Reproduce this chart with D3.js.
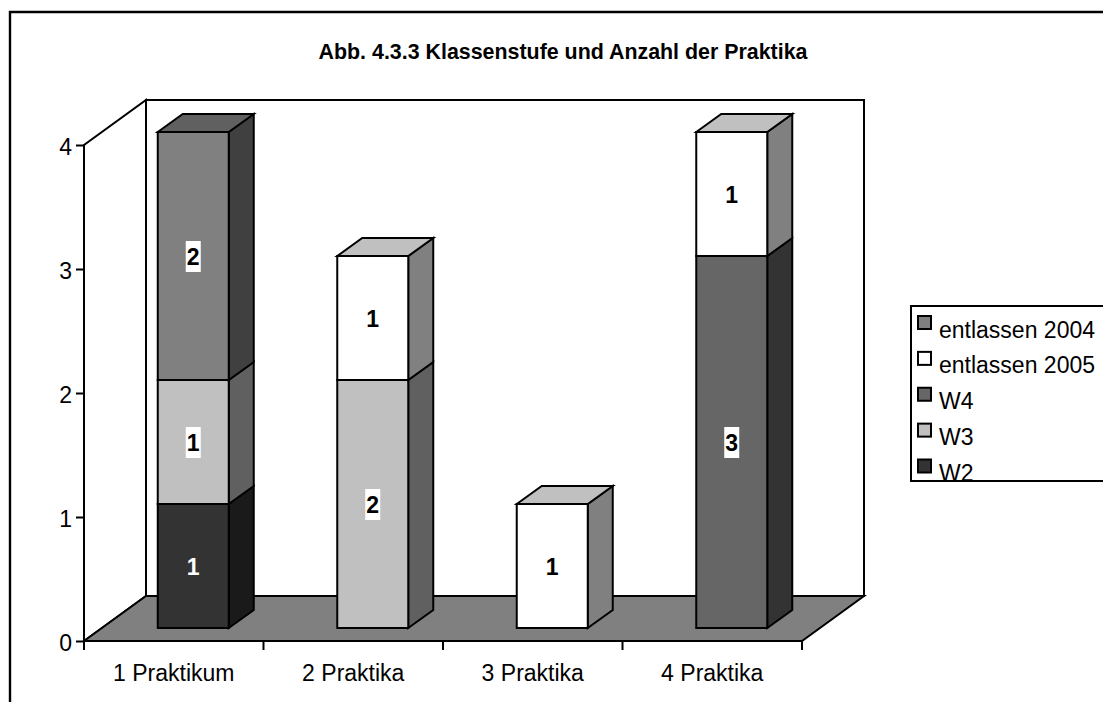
<!DOCTYPE html>
<html><head><meta charset="utf-8"><script src="https://cdnjs.cloudflare.com/ajax/libs/d3/7.8.5/d3.min.js"></script>
<style>html,body{margin:0;padding:0;background:#fff}svg{display:block}text{font-family:"Liberation Sans",Arial,sans-serif;fill:#000}</style></head><body>
<script>
const title = "Abb. 4.3.3 Klassenstufe und Anzahl der Praktika";
const categories = ["1 Praktikum","2 Praktika","3 Praktika","4 Praktika"];
const seriesNames = ["W2","W3","W4","entlassen 2005","entlassen 2004"];
const W2 = [1,0,0,0];
const W3 = [1,2,0,0];
const W4 = [0,0,0,3];
const entlassen2005 = [0,1,1,1];
const entlassen2004 = [2,0,0,0];
const colors = ["#333333","#c0c0c0","#666666","#ffffff","#808080"];
const yTicks = [0,1,2,3,4];
const seriesValues = [W2,W3,W4,entlassen2005,entlassen2004];

const W=1103,H=702;
const svg=d3.select("body").append("svg").attr("width",W).attr("height",H);
const depthX=62, depthY=45, barDX=25, barDY=18;
const x=d3.scaleBand().domain(categories).range([84,802]);
const y=d3.scaleLinear().domain([0,4]).range([641,145]);
const barW=71, barOffX=19.5, barOffY=13;
const line=p=>"M"+p.map(q=>q.join(",")).join("L")+"Z";
const stroke="#000";

svg.append("path").attr("d","M10,702V12H1103").attr("fill","none").attr("stroke","#000").attr("stroke-width",2.4);

// walls and floor
const x0=x.range()[0],x1=x.range()[1],y0=y(0),yT=y(4);
svg.append("path").attr("d",line([[x0,y0],[x0,yT],[x0+depthX,yT-depthY],[x0+depthX,y0-depthY]])).attr("fill","#fff").attr("stroke",stroke).attr("stroke-width",2);
svg.append("path").attr("d",line([[x0+depthX,y0-depthY],[x0+depthX,yT-depthY],[x1+depthX,yT-depthY],[x1+depthX,y0-depthY]])).attr("fill","#fff").attr("stroke",stroke).attr("stroke-width",2);
svg.append("path").attr("d",line([[x0,y0],[x0+depthX,y0-depthY],[x1+depthX,y0-depthY],[x1,y0]])).attr("fill","#808080").attr("stroke",stroke).attr("stroke-width",2);

// axes
const gy=svg.append("g").attr("transform",`translate(${x0},0)`).call(d3.axisLeft(y).tickValues(yTicks).tickFormat(d3.format("d")).tickSize(8).tickPadding(4));
gy.select(".domain").remove();
gy.selectAll("line").attr("stroke","#000").attr("stroke-width",2);
gy.selectAll("text").attr("font-size",23).attr("dy",null).attr("y",9);
const gx=svg.append("g").attr("transform",`translate(0,${y0})`);
const edges=categories.map(c=>x(c)).concat([x1]);
gx.selectAll("line").data(edges).join("line").attr("x1",d=>d).attr("x2",d=>d).attr("y1",0).attr("y2",9).attr("stroke","#000").attr("stroke-width",2);
gx.selectAll("text").data(categories).join("text").attr("x",d=>x(d)+x.bandwidth()/2).attr("y",40).attr("text-anchor","middle").attr("font-size",23).text(d=>d);

// bars
const shade=(c,k)=>{const r=d3.rgb(c);return d3.rgb(r.r*k,r.g*k,r.b*k).formatHex();};
const topColor=c=>c==="#ffffff"?"#c0c0c0":shade(c,0.75);
const sideColor=c=>shade(c,0.5);
categories.forEach((cat,i)=>{
  const left=x(cat)+x.bandwidth()/2-barW/2+barOffX, right=left+barW;
  const g=svg.append("g");
  let base=0; const labels=[];
  seriesValues.forEach((vals,s)=>{
    const v=vals[i]; if(!v) return;
    const b=y(base)-barOffY, t=y(base+v)-barOffY, c=colors[s];
    g.append("path").attr("d",line([[right,b],[right+barDX,b-barDY],[right+barDX,t-barDY],[right,t]])).attr("fill",sideColor(c)).attr("stroke",stroke).attr("stroke-width",2);
    g.append("rect").attr("x",left).attr("y",t).attr("width",barW).attr("height",b-t).attr("fill",c).attr("stroke",stroke).attr("stroke-width",2);
    labels.push({v,cx:(left+right)/2,cy:(b+t)/2,s});
    base+=v;
    if(base===d3.sum(seriesValues,a=>a[i])){
      g.append("path").attr("d",line([[left,t],[left+barDX,t-barDY],[right+barDX,t-barDY],[right,t]])).attr("fill",topColor(c)).attr("stroke",stroke).attr("stroke-width",2);
    }
  });
  labels.forEach(l=>{
    const dark=l.s===0;
    g.append("rect").attr("x",l.cx-7.5).attr("y",l.cy-15).attr("width",15).attr("height",31).attr("fill",dark?"none":"#fff");
    g.append("text").attr("x",l.cx).attr("y",l.cy+8.5).attr("text-anchor","middle").attr("font-size",23).attr("font-weight","bold").style("fill",dark?"#fff":"#000").text(l.v);
  });
});

// title
svg.append("text").attr("x",563).attr("y",59).attr("text-anchor","middle").attr("font-size",21.4).attr("font-weight","bold").text(title);

// legend
svg.append("rect").attr("x",911).attr("y",306).attr("width",192).attr("height",175).attr("fill","#fff");
const legendOrder=seriesNames.map((n,i)=>({n,c:colors[i]})).reverse();
const ly=d3.scalePoint().domain(legendOrder.map(d=>d.n)).range([322.5,466]);
svg.append("clipPath").attr("id","legendClip").append("rect").attr("x",911).attr("y",306).attr("width",192).attr("height",175);
const legendG=svg.append("g").attr("clip-path","url(#legendClip)");
legendOrder.forEach(d=>{
  legendG.append("rect").attr("x",918).attr("y",ly(d.n)-6.5).attr("width",13).attr("height",13).attr("fill",d.c).attr("stroke","#000").attr("stroke-width",2);
  legendG.append("text").attr("x",939).attr("y",ly(d.n)+15).attr("font-size",23).text(d.n);
});
svg.append("path").attr("d","M1103,306H911V481H1103").attr("fill","none").attr("stroke","#000").attr("stroke-width",2);
</script></body></html>
